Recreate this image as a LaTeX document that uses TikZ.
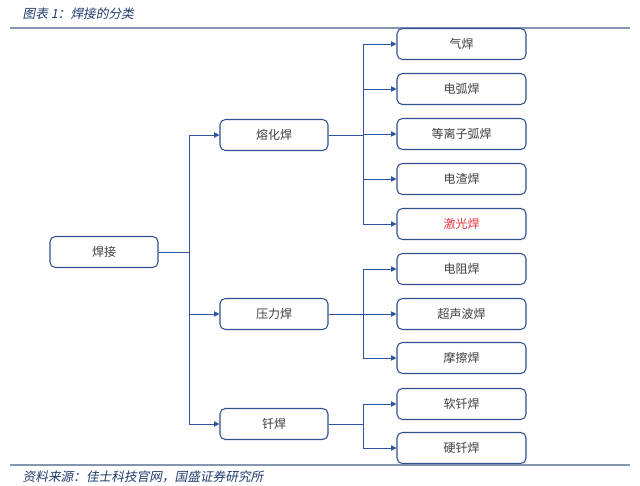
\documentclass[tikz,border=0pt]{standalone}
\usepackage{fontspec}
\newfontfamily\cjk{Noto Sans CJK SC}
\newfontfamily\cjkslant[FakeSlant=0.2]{Noto Sans CJK SC}
\usetikzlibrary{arrows.meta}
\definecolor{boxblue}{HTML}{2F4F8F}
\definecolor{linkblue}{HTML}{2E55A0}
\definecolor{titleblue}{HTML}{1F3A6E}
\definecolor{rulegray}{HTML}{8496B0}
\definecolor{hot}{HTML}{E8393F}
\begin{document}
\begin{tikzpicture}[x=0.75pt,y=-0.75pt,
  item/.style={draw=boxblue,line width=0.8pt,rounded corners=4pt,fill=white,
    minimum height=31*0.75pt,text=black!75,font=\cjk\fontsize{9}{11}\selectfont,inner sep=0pt},
  leftbox/.style={item,minimum width=108*0.75pt},
  rightbox/.style={item,minimum width=129*0.75pt},
  link/.style={draw=linkblue,line width=0.6pt,-{Triangle[length=4pt,width=4pt]}},
  trunk/.style={draw=linkblue,line width=0.6pt}]
\useasboundingbox (0,0) rectangle (640,486);
% header and footer
\node[anchor=west,text=titleblue,font=\cjkslant\fontsize{9.5}{11}\selectfont] (title) at (18,14) {图表 1：焊接的分类};
\draw[rulegray,line width=1pt] (10,28) -- (630,28);
\draw[rulegray,line width=1pt] (10,465) -- (630,465);
\node[anchor=west,text=titleblue,font=\cjkslant\fontsize{9.5}{11}\selectfont] (source) at (18,477) {资料来源：佳士科技官网，国盛证券研究所};

% root
\node[leftbox] (root) at (104,252) {焊接};
% second level
\node[leftbox] (rh) at (274,135) {熔化焊};
\node[leftbox] (yl) at (274,314) {压力焊};
\node[leftbox] (qh) at (274,424) {钎焊};
% third level
\node[rightbox] (a1) at (461.5,44) {气焊};
\node[rightbox] (a2) at (461.5,89) {电弧焊};
\node[rightbox] (a3) at (461.5,134) {等离子弧焊};
\node[rightbox] (a4) at (461.5,179) {电渣焊};
\node[rightbox,text=hot] (a5) at (461.5,224) {激光焊};
\node[rightbox] (b1) at (461.5,269) {电阻焊};
\node[rightbox] (b2) at (461.5,314) {超声波焊};
\node[rightbox] (b3) at (461.5,358) {摩擦焊};
\node[rightbox] (c1) at (461.5,404) {软钎焊};
\node[rightbox] (c2) at (461.5,448) {硬钎焊};

% bus junctions
\coordinate (j0) at (189,252);
\coordinate (j1) at (363,135);
\coordinate (j2) at (363,314);
\coordinate (j3) at (363,424);

% root to second level
\draw[trunk] (root.east) -- (j0);
\draw[link] (j0) |- (rh.west);
\draw[link] (j0) |- (yl.west);
\draw[link] (j0) |- (qh.west);
% fusion welding
\draw[trunk] (rh.east) -- (j1);
\foreach \t in {a1,a2,a3,a4,a5} \draw[link] (j1) |- (\t.west);
% pressure welding
\draw[trunk] (yl.east) -- (j2);
\foreach \t in {b1,b2,b3} \draw[link] (j2) |- (\t.west);
% brazing
\draw[trunk] (qh.east) -- (j3);
\foreach \t in {c1,c2} \draw[link] (j3) |- (\t.west);
\end{tikzpicture}
\end{document}
